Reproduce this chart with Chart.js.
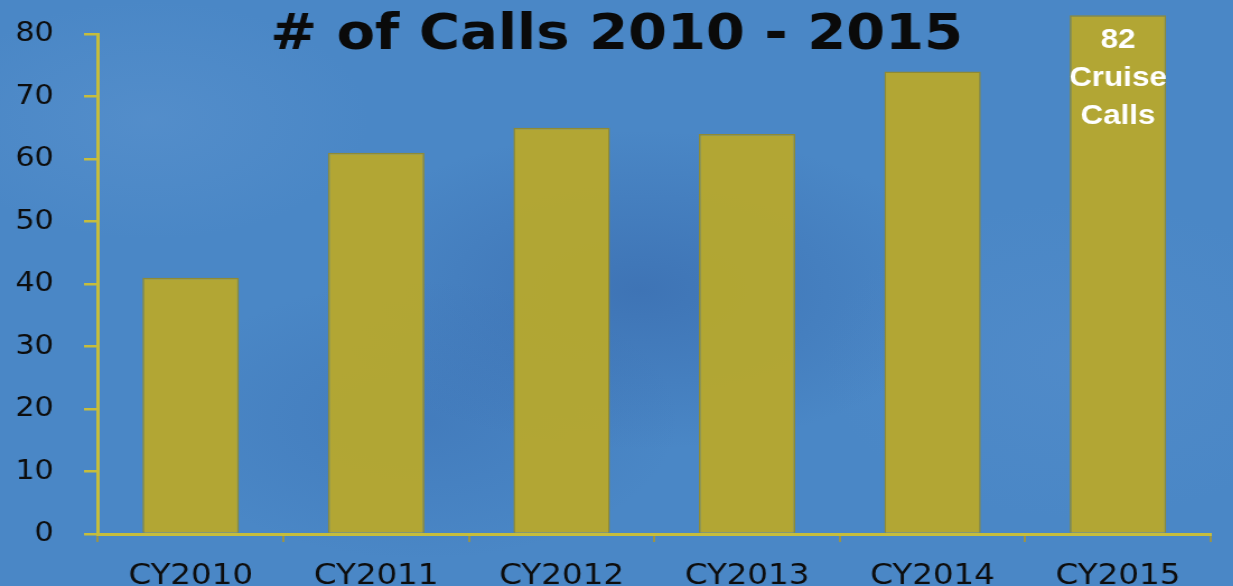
<!DOCTYPE html>
<html>
<head>
<meta charset="utf-8">
<script src="https://cdn.jsdelivr.net/npm/chart.js@4/dist/chart.umd.min.js"></script>
<style>
  html, body { margin: 0; padding: 0; overflow: hidden; }
  body {
    width: 1233px; height: 586px;
    background-color: #4a87c6;
    background-image:
      radial-gradient(ellipse 320px 160px at 640px 290px, rgba(40,80,150,0.35), rgba(40,80,150,0)),
      radial-gradient(ellipse 260px 140px at 420px 420px, rgba(45,90,160,0.25), rgba(45,90,160,0)),
      radial-gradient(ellipse 220px 120px at 150px 120px, rgba(110,160,215,0.25), rgba(110,160,215,0)),
      radial-gradient(ellipse 260px 160px at 1080px 360px, rgba(100,150,210,0.22), rgba(100,150,210,0));
  }
  #wrap {
    position: absolute; left: 0; top: 0;
    width: 1101px; height: 586px;
    transform: scaleX(1.12); transform-origin: 0 0;
  }
</style>
</head>
<body>
<div id="wrap"><canvas id="callsChart"></canvas></div>
<script>
var years = ["CY2010", "CY2011", "CY2012", "CY2013", "CY2014", "CY2015"];
var calls = [41, 61, 65, 64, 74, 83];
var yTicks = [0, 10, 20, 30, 40, 50, 60, 70, 80];
var chartTitle = "# of Calls 2010 - 2015";
var noteLines = ["82", "Cruise", "Calls"];

var axisColor = "#c6bd3c";

// title and the note on the last bar
var textPlugin = {
    id: 'slideText',
    afterDatasetsDraw: function (chart) {
        var ctx = chart.ctx;
        ctx.save();
        ctx.fillStyle = "#0a0a0a";
        ctx.font = "bold 50px 'DejaVu Sans'";
        ctx.textAlign = "center";
        ctx.textBaseline = "alphabetic";
        ctx.fillText(chartTitle, chart.width / 2, 49);

        var meta = chart.getDatasetMeta(0);
        var bar = meta.data[meta.data.length - 1];
        ctx.fillStyle = "#ffffff";
        ctx.font = "bold 28px 'Liberation Sans'";
        for (var i = 0; i < noteLines.length; i++) {
            ctx.fillText(noteLines[i], bar.x, bar.y + 33 + i * 38);
        }
        ctx.restore();
    }
};

var ctx = document.getElementById("callsChart").getContext("2d");

var callsChart = new Chart(ctx, {
    type: 'bar',
    data: {
        labels: years,
        datasets: [{
            data: calls,
            backgroundColor: "rgba(182,168,46,0.96)",
            borderColor: "#8f8a34",
            borderWidth: 1.5,
            barPercentage: 0.52,
            categoryPercentage: 1,
            clip: false
        }]
    },
    options: {
        responsive: true,
        maintainAspectRatio: false,
        animation: false,
        layout: { padding: { top: 34, right: 20, left: 0, bottom: 0 } },
        plugins: {
            legend: { display: false },
            title: { display: false },
            tooltip: { enabled: false }
        },
        scales: {
            x: {
                afterFit: function (scale) { scale.height = 52; },
                grid: {
                    drawOnChartArea: false,
                    drawTicks: true,
                    tickLength: 8,
                    color: "#9a9448",
                    lineWidth: 2
                },
                border: { display: true, color: axisColor, width: 3 },
                ticks: {
                    color: "#0d0d0d",
                    padding: 17,
                    font: { family: "'DejaVu Sans'", size: 29 }
                }
            },
            y: {
                min: 0,
                max: 80,
                afterFit: function (scale) {
                    scale.width = 87.5;
                    scale.paddingTop = 0;
                    scale.paddingBottom = 0;
                },
                afterBuildTicks: function (scale) {
                    scale.ticks = yTicks.map(function (v) { return { value: v }; });
                },
                grid: {
                    drawOnChartArea: false,
                    drawTicks: true,
                    tickLength: 12.5,
                    color: axisColor,
                    lineWidth: 2.5
                },
                border: { display: true, color: axisColor, width: 3 },
                ticks: {
                    color: "#0d0d0d",
                    padding: 27,
                    font: { family: "'DejaVu Sans'", size: 27 }
                }
            }
        }
    },
    plugins: [textPlugin]
});
</script>
</body>
</html>
